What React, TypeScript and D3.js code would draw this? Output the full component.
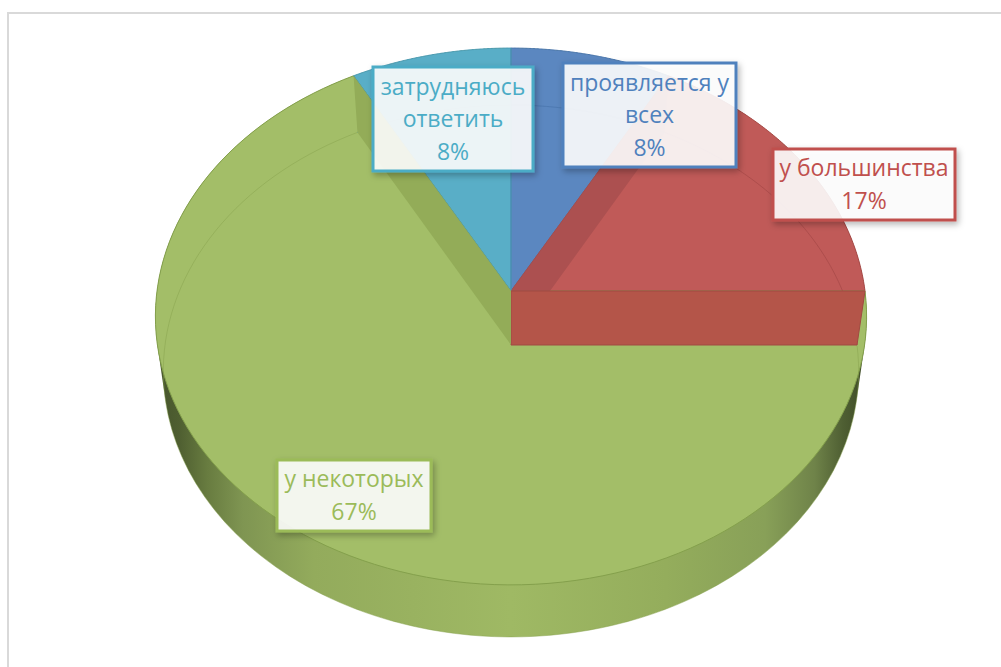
import React from "react";
import * as d3 from "d3";

// Survey shares, clockwise from twelve o'clock
const categories = ["проявляется у всех", "у большинства", "у некоторых", "затрудняюсь ответить"];
const shares = [8, 17, 67, 8];
const labelLines = [
  ["проявляется у", "всех", "8%"],
  ["у большинства", "17%"],
  ["у некоторых", "67%"],
  ["затрудняюсь", "ответить", "8%"],
];
const faceColors = ["#5b87c0", "#c05a58", "#a3be68", "#59aec7"];
const edgeColors = ["#4a76ae", "#a84a48", "#84a04c", "#4a9ab2"];
const wallColors = ["#4f78ad", "#b45549", "#93ac58", "#4d9bb2"];
const labelColors = ["#4f81bd", "#c0504d", "#9bbb59", "#4bacc6"];

type Plane = { cx: number; cy: number; rx: number; ry: number; k: number };

// The disc is seen in perspective: the near half of each face is stretched
const topPlane: Plane = { cx: 511, cy: 291, rx: 354, ry: 266, k: 0.0949 };
const bottomPlane: Plane = { cx: 511, cy: 345, rx: 346, ry: 263.4, k: 0.0978 };

const project = (p: Plane, a: number): [number, number] => {
  const u = Math.sin(a);
  const v = -Math.cos(a);
  const w = 1 - p.k * v;
  return [p.cx + (p.rx * u) / w, p.cy + (p.ry * v) / w];
};

const arcPoints = (p: Plane, a0: number, a1: number) =>
  d3.range(0, 1.0001, 1 / 120).map((t) => project(p, a0 + (a1 - a0) * t));

const line = d3.line();

const pie = d3.pie<number>().sort(null).startAngle(0).endAngle(2 * Math.PI);
const slices = pie(shares);

const hull = d3.polygonHull([
  ...arcPoints(topPlane, 0, 2 * Math.PI),
  ...arcPoints(bottomPlane, 0, 2 * Math.PI),
])!;

const facePath = (a0: number, a1: number) =>
  line([[topPlane.cx, topPlane.cy], ...arcPoints(topPlane, a0, a1)]) + "Z";

// Cut wall of a slice, running from the axis out to the rim
const wallPath = (a: number) =>
  line([
    [topPlane.cx, topPlane.cy],
    project(topPlane, a),
    project(bottomPlane, a),
    [bottomPlane.cx, bottomPlane.cy],
  ]) + "Z";

// Callout boxes, in slice order
const labelBoxes = [
  { x: 563, y: 63, w: 173, h: 104 },
  { x: 773, y: 149, w: 182, h: 71 },
  { x: 277, y: 460, w: 154, h: 71 },
  { x: 373, y: 67, w: 160, h: 104 },
];

const sideStops: [number, string][] = [
  [0, "#46552c"],
  [0.03, "#4f5f31"],
  [0.07, "#687c40"],
  [0.12, "#7f9552"],
  [0.22, "#93ab5c"],
  [0.5, "#9fb964"],
  [0.72, "#94ad5c"],
  [0.86, "#88a058"],
  [0.93, "#6f8349"],
  [0.97, "#4f5f33"],
  [1, "#3f4c27"],
];

export default function App() {
  return (
    <svg
      width={1001}
      height={667}
      style={{ position: "absolute", left: 0, top: 0, background: "#fff" }}
      fontFamily="'Open Sans', sans-serif"
    >
      <defs>
        <linearGradient id="sideShade" gradientUnits="userSpaceOnUse" x1={158} x2={864} y1={0} y2={0}>
          {sideStops.map(([o, c]) => (
            <stop key={o} offset={o} stopColor={c} />
          ))}
        </linearGradient>
        <filter id="calloutShadow" x="-10%" y="-15%" width="125%" height="135%">
          <feDropShadow dx={2} dy={3} stdDeviation={3} floodColor="#000" floodOpacity={0.3} />
        </filter>
      </defs>

      {/* chart area frame */}
      <path d="M8 667V13H1001" fill="none" stroke="#d9d9d9" strokeWidth={2} />

      {/* rim of the disc */}
      <path d={line(hull) + "Z"} fill="url(#sideShade)" />

      {/* top faces */}
      {slices.map((s, i) => (
        <path key={i} d={facePath(s.startAngle, s.endAngle)} fill={faceColors[i]} />
      ))}

      {/* slice outlines */}
      {slices.map((s, i) => (
        <path
          key={i}
          d={facePath(s.startAngle, s.endAngle)}
          fill="none"
          stroke={edgeColors[i]}
          strokeWidth={1}
        />
      ))}

      {/* underside outline showing through the translucent disc */}
      {slices.map((s, i) => (
        <path
          key={i}
          d={line(arcPoints(bottomPlane, s.startAngle, s.endAngle)) ?? ""}
          fill="none"
          stroke={edgeColors[i]}
          strokeOpacity={i === 2 ? 0.45 : 0.8}
          strokeWidth={1}
        />
      ))}

      {/* cut walls visible through the top */}
      <path d={wallPath(slices[0].endAngle)} fill="#a84f4f" fillOpacity={0.85} />
      <path d={wallPath(slices[1].endAngle)} fill={wallColors[1]} stroke="#a04a42" strokeWidth={1} />
      <path d={wallPath(slices[3].startAngle)} fill={wallColors[2]} />

      {/* callouts */}
      {labelBoxes.map((b, i) => {
        const lines = labelLines[i];
        const lineHeight = 32.5;
        const firstBase = b.y + b.h / 2 - ((lines.length - 1) * lineHeight) / 2 + 8;
        return (
          <g key={categories[i]}>
            <rect
              x={b.x}
              y={b.y}
              width={b.w}
              height={b.h}
              fill="#fff"
              fillOpacity={0.88}
              stroke={labelColors[i]}
              strokeWidth={3}
              filter="url(#calloutShadow)"
            />
            <text textAnchor="middle" fontSize={23} fill={labelColors[i]}>
              {lines.map((t, j) => (
                <tspan key={j} x={b.x + b.w / 2} y={firstBase + j * lineHeight}>
                  {t}
                </tspan>
              ))}
            </text>
          </g>
        );
      })}
    </svg>
  );
}
